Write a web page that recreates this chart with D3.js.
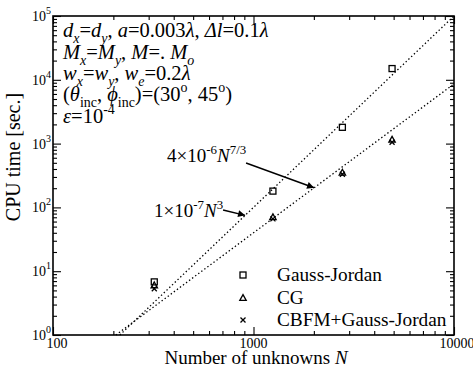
<!DOCTYPE html>
<html><head><meta charset="utf-8">
<script src="https://cdn.jsdelivr.net/npm/d3@7"></script>
<style>body{margin:0;background:#fff}svg{display:block}text{font-family:"Liberation Serif","Times New Roman",serif;fill:#000}</style>
</head><body><svg id="c" width="473" height="368"></svg>
<script>
// ---- data ----
const xMajor = [100, 1000, 10000];
const xMajorLabels = ["100", "1000", "10000"];
const yExponents = [0, 1, 2, 3, 4, 5];
const unknownsN = [320, 1250, 2775, 4910];
const gaussJordan = [6.8, 180, 1800, 15000];
const cgTimes = [6.0, 70, 350, 1150];
const cbfmGaussJordan = [5.3, 66, 330, 1050];
const seriesNames = ["Gauss-Jordan", "CG", "CBFM+Gauss-Jordan"];
// reference lines (endpoints, log-log straight)
const lineN3 = [[215.4, 1], [10000, 100000]];      // 1e-7 N^3
const lineN73 = [[205.8, 1], [10000, 8617]];       // 4e-6 N^(7/3)
const arrow73 = [[918, 497], [2005, 203]];
const arrowN3 = [[705, 91], [908, 75]];

const svg = d3.select("#c");
const L = 53, R = 454, T = 16, B = 335;
const x = d3.scaleLog().domain([100, 10000]).range([L, R]);
const y = d3.scaleLog().domain([1, 100000]).range([B, T]);

const xMinor = [], yMinor = [];
[100, 1000].forEach(d => { for (let k = 2; k <= 9; k++) xMinor.push(d * k); });
[1, 10, 100, 1000, 10000].forEach(d => { for (let k = 2; k <= 9; k++) yMinor.push(d * k); });
const yMajor = yExponents.map(e => Math.pow(10, e));

function ticks(axisFn, scale, vals, size, tr) {
  const g = svg.append("g").attr("transform", tr)
    .call(axisFn(scale).tickValues(vals).tickSize(size).tickFormat(""));
  g.select(".domain").remove();
  g.selectAll("line").attr("stroke", "#000").attr("stroke-width", 1.1);
}
ticks(d3.axisBottom, x, xMajor, -8, `translate(0,${B})`);
ticks(d3.axisBottom, x, xMinor, -4, `translate(0,${B})`);
ticks(d3.axisTop, x, xMajor, -8, `translate(0,${T})`);
ticks(d3.axisTop, x, xMinor, -4, `translate(0,${T})`);
ticks(d3.axisLeft, y, yMajor, -8, `translate(${L},0)`);
ticks(d3.axisLeft, y, yMinor, -4, `translate(${L},0)`);
ticks(d3.axisRight, y, yMajor, -8, `translate(${R},0)`);
ticks(d3.axisRight, y, yMinor, -4, `translate(${R},0)`);

svg.append("rect").attr("x", L).attr("y", T).attr("width", R - L).attr("height", B - T)
  .attr("fill", "none").attr("stroke", "#000").attr("stroke-width", 1.6);

// tick labels
xMajor.forEach((v, i) => {
  const dx = i === 0 ? 4 : (i === 2 ? 3 : 0);
  svg.append("text").attr("x", x(v) + dx).attr("y", B + 13).attr("text-anchor", "middle")
    .attr("font-size", 14).text(xMajorLabels[i]);
});
yExponents.forEach(e => {
  const t = svg.append("text").attr("x", L - 2).attr("y", y(Math.pow(10, e)) + 5)
    .attr("text-anchor", "end").attr("font-size", 14);
  t.append("tspan").text("10");
  t.append("tspan").attr("font-size", 10).attr("dy", -7).text(e);
});

// rich text helper
function rich(px, py, parts, size) {
  const t = svg.append("text").attr("x", px).attr("y", py).attr("font-size", size);
  let cur = 0;
  parts.forEach(p => {
    let off = 0, fs = size;
    if (p.sub) { off = size * 0.28; fs = size * 0.68; }
    if (p.sup) { off = -size * 0.42; fs = size * 0.68; }
    const s = t.append("tspan").attr("dy", off - cur).attr("font-size", fs).text(p.t);
    if (p.i) s.attr("font-style", "italic");
    cur = off;
  });
  return t;
}
const FS = 20.5;
rich(63, 37, [{t:"d",i:1},{t:"x",i:1,sub:1},{t:"="},{t:"d",i:1},{t:"y",i:1,sub:1},{t:", "},{t:"a",i:1},{t:"=0.003"},{t:"λ",i:1},{t:", "},{t:"Δl",i:1},{t:"=0.1"},{t:"λ",i:1}], FS);
rich(63, 59, [{t:"M",i:1},{t:"x",i:1,sub:1},{t:"="},{t:"M",i:1},{t:"y",i:1,sub:1},{t:", "},{t:"M",i:1},{t:"=. "},{t:"M",i:1},{t:"o",i:1,sub:1}], FS);
rich(63, 80, [{t:"w",i:1},{t:"x",i:1,sub:1},{t:"="},{t:"w",i:1},{t:"y",i:1,sub:1},{t:", "},{t:"w",i:1},{t:"e",i:1,sub:1},{t:"=0.2"},{t:"λ",i:1}], FS);
rich(63, 101, [{t:"("},{t:"θ",i:1},{t:"inc",sub:1},{t:", "},{t:"ϕ",i:1},{t:"inc",sub:1},{t:")=(30"},{t:"o",sup:1},{t:", 45"},{t:"o",sup:1},{t:")"}], FS);
rich(63, 123, [{t:"ε",i:1},{t:"=10"},{t:"-4",sup:1}], FS);

// fit lines
const ln = d3.line().x(d => x(d[0])).y(d => y(d[1]));
[lineN3, lineN73].forEach(l => svg.append("path").attr("d", ln(l)).attr("fill", "none")
  .attr("stroke", "#000").attr("stroke-width", 1.3).attr("stroke-dasharray", "1.4,2.4"));

// arrows
svg.append("defs").append("marker").attr("id", "ah").attr("viewBox", "0 0 10 10")
  .attr("refX", 10).attr("refY", 5).attr("markerWidth", 9).attr("markerHeight", 7)
  .attr("markerUnits", "userSpaceOnUse").attr("orient", "auto")
  .append("path").attr("d", "M0,0L10,5L0,10z").attr("fill", "#000");
[arrow73, arrowN3].forEach(a => svg.append("path").attr("d", ln(a)).attr("stroke", "#000")
  .attr("stroke-width", 1.4).attr("fill", "none").attr("marker-end", "url(#ah)"));

rich(167, 162, [{t:"4×10"},{t:"-6",sup:1},{t:"N",i:1},{t:"7/3",sup:1}], 19);
rich(154, 217, [{t:"1×10"},{t:"-7",sup:1},{t:"N",i:1},{t:"3",sup:1}], 19);

// markers
function square(g, cx, cy) { g.append("rect").attr("x", cx - 3).attr("y", cy - 3).attr("width", 6).attr("height", 6).attr("fill", "none").attr("stroke", "#000").attr("stroke-width", 1.3); }
function tri(g, cx, cy) { g.append("path").attr("d", `M${cx},${cy-3.4}L${cx+3.2},${cy+2.4}L${cx-3.2},${cy+2.4}Z`).attr("fill", "none").attr("stroke", "#000").attr("stroke-width", 1.3); }
function cross(g, cx, cy) { g.append("path").attr("d", `M${cx-2.5},${cy-2.5}L${cx+2.5},${cy+2.5}M${cx+2.5},${cy-2.5}L${cx-2.5},${cy+2.5}`).attr("stroke", "#000").attr("stroke-width", 1.3); }
const mk = svg.append("g");
unknownsN.forEach((n, i) => {
  square(mk, x(n), y(gaussJordan[i]));
  tri(mk, x(n), y(cgTimes[i]));
  cross(mk, x(n), y(cbfmGaussJordan[i]));
});

// legend
const legFns = [square, tri, cross];
const legY = [275, 298, 320];
seriesNames.forEach((s, i) => {
  legFns[i](svg, 243, legY[i]);
  svg.append("text").attr("x", 277).attr("y", legY[i] + 6).attr("font-size", 19.3).text(s);
});

// axis titles
const xt = svg.append("text").attr("x", 256).attr("y", 364).attr("text-anchor", "middle").attr("font-size", 19);
xt.append("tspan").text("Number of unknowns ");
xt.append("tspan").attr("font-style", "italic").text("N");
svg.append("text").attr("transform", "translate(20,157) rotate(-90)").attr("text-anchor", "middle")
  .attr("font-size", 20).text("CPU time [sec.]");
</script></body></html>
